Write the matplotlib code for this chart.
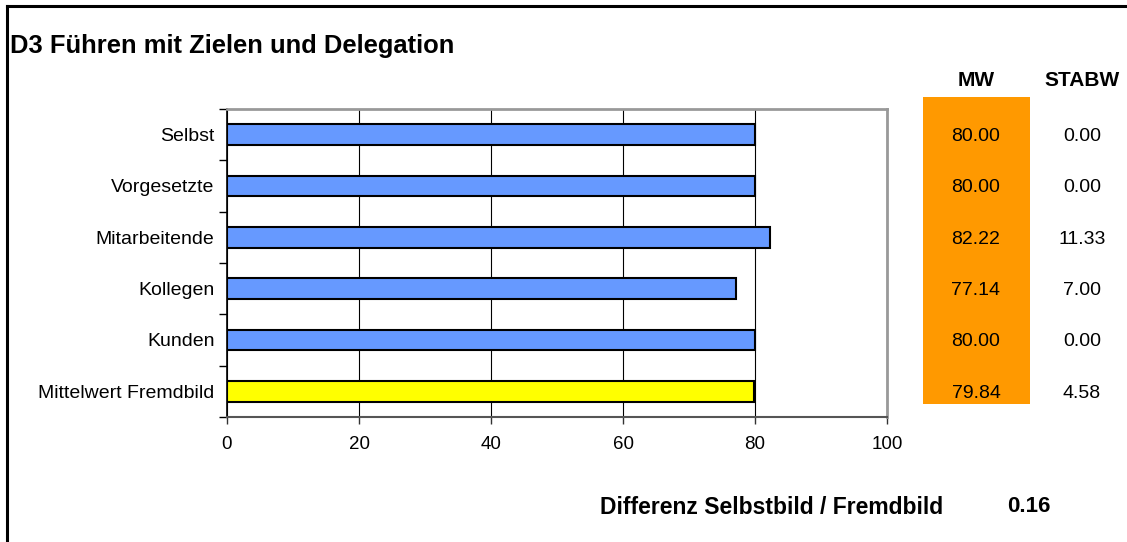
import numpy as np
import matplotlib
matplotlib.use("Agg")
import matplotlib.pyplot as plt
from matplotlib.patches import Rectangle
from matplotlib.lines import Line2D

plt.rcParams['font.family'] = ['Liberation Sans', 'DejaVu Sans']

title = "D3 Führen mit Zielen und Delegation"
categories = ["Selbst", "Vorgesetzte", "Mitarbeitende", "Kollegen", "Kunden", "Mittelwert Fremdbild"]
mw = [80.00, 80.00, 82.22, 77.14, 80.00, 79.84]
stabw = [0.00, 0.00, 11.33, 7.00, 0.00, 4.58]
bar_colors = ["#6699FF"] * 5 + ["#FFFF00"]
diff_label = "Differenz Selbstbild / Fremdbild"
diff_value = 0.16

W, H = 1127, 542
fig = plt.figure(figsize=(W / 100, H / 100), dpi=100)

def fx(px):
    return px / W

def fy(py):
    return 1 - py / H

# frame around the chart (only top and left visible)
fig.add_artist(Line2D([fx(6.5), fx(W)], [fy(5.5), fy(5.5)], color="black", lw=2.2))
fig.add_artist(Line2D([fx(6.5), fx(6.5)], [fy(5.5), fy(H)], color="black", lw=2.2))

ax = fig.add_axes([fx(227), fy(417), fx(887 - 227), (417 - 109) / H])

y = np.arange(len(categories))
ax.barh(y, mw, height=0.4, color=bar_colors, edgecolor="black", linewidth=1.5, zorder=3)
ax.set_ylim(len(categories) - 0.5, -0.5)
ax.set_xlim(0, 100)

ax.set_xticks([0, 20, 40, 60, 80, 100])
ax.xaxis.grid(True, color="black", lw=0.8, zorder=0)
ax.tick_params(axis="x", direction="out", length=5, width=1, color="#333333",
               labelsize=13.5, pad=9)

ax.set_yticks(y)
ax.set_yticklabels(categories)
ax.set_yticks(np.arange(-0.5, len(categories)), minor=True)
ax.tick_params(axis="y", which="major", length=0, labelsize=14, pad=9)
ax.tick_params(axis="y", which="minor", direction="out", length=6, width=1, color="black")

for s in ["top", "right"]:
    ax.spines[s].set_color("#999999")
    ax.spines[s].set_linewidth(2)
ax.spines["left"].set_color("black")
ax.spines["left"].set_linewidth(1.2)
ax.spines["bottom"].set_color("#555555")
ax.spines["bottom"].set_linewidth(1.5)

# MW / STABW table on the right
fig.add_artist(Rectangle((fx(923), fy(404)), fx(1030 - 923), (404 - 97) / H,
                         facecolor="#FF9900", edgecolor="none"))
fig.text(fx(976), fy(80), "MW", ha="center", va="center", fontsize=15, fontweight="bold")
fig.text(fx(1082), fy(80), "STABW", ha="center", va="center", fontsize=15, fontweight="bold")

for i in range(len(categories)):
    disp_y = ax.transData.transform((0, i))[1]
    yf = disp_y / fig.bbox.height
    fig.text(fx(976), yf, f"{mw[i]:.2f}", ha="center", va="center_baseline", fontsize=14)
    fig.text(fx(1082), yf, f"{stabw[i]:.2f}", ha="center", va="center_baseline", fontsize=14)

fig.text(fx(10), fy(46), title, ha="left", va="center", fontsize=18.4, fontweight="bold")
fig.text(fx(943), fy(507), diff_label, ha="right", va="center", fontsize=16.5, fontweight="bold")
fig.text(fx(1029), fy(507), f"{diff_value:.2f}", ha="center", va="center", fontsize=16, fontweight="bold")

fig.savefig("out.png", dpi=100)
